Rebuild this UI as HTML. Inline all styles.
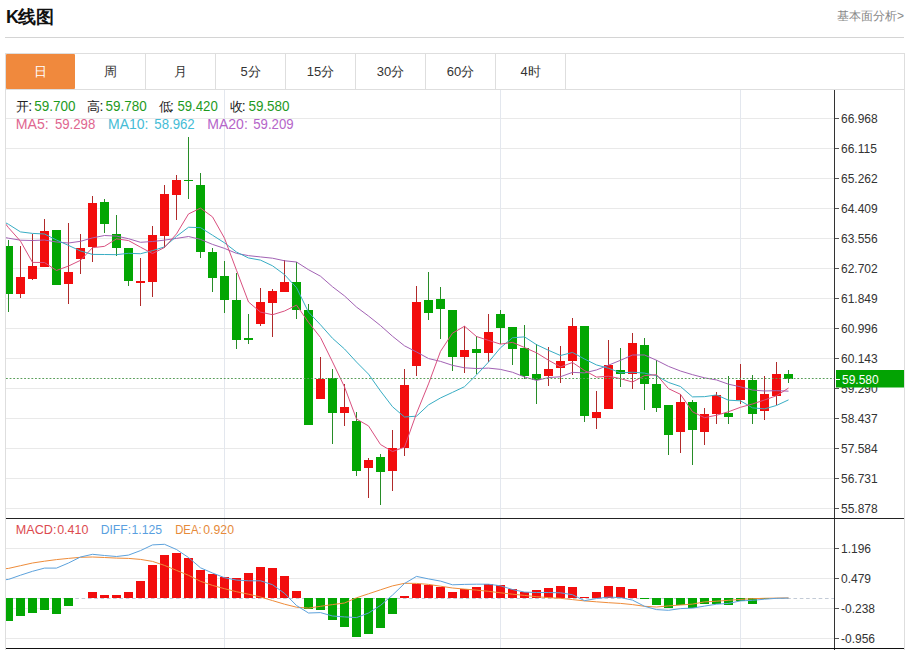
<!DOCTYPE html>
<html><head><meta charset="utf-8">
<style>
*{margin:0;padding:0;box-sizing:border-box}
html,body{width:908px;height:650px;overflow:hidden;background:#fff}
body{position:relative;font-family:"Liberation Sans",sans-serif;color:#333}
.title{position:absolute;left:6px;top:5.7px;font-size:18px;font-weight:bold;color:#111;line-height:22px;letter-spacing:0}
.more{position:absolute;right:4px;top:8.5px;font-size:12px;color:#888;line-height:14px}
.hr{position:absolute;left:5px;top:37px;width:899px;height:1px;background:#d4d4d4}
.tabs{position:absolute;left:5px;top:53px;width:900px;height:37px;border:1px solid #dedede;border-bottom:1px solid #dedede}
.tab{position:absolute;top:0;width:70px;height:35px;line-height:35px;text-align:center;font-size:13px;color:#333;border-right:1px solid #dedede}
.tab.on{background:#f0893d;color:#fff;border-right:none;border-radius:1px;width:69px}
svg{position:absolute;left:0;top:0}
.ax text{font-family:"Liberation Sans",sans-serif;font-size:12px;fill:#333}
.hd{position:absolute;font-size:13px;line-height:16px;white-space:pre}
</style></head><body>
<div class="title"><span style="letter-spacing:-1px">K</span>线图</div>
<div class="more">基本面分析&gt;</div>
<div class="hr"></div>
<div class="tabs">
<div class="tab on" style="left:0">日</div>
<div class="tab" style="left:70px">周</div>
<div class="tab" style="left:140px">月</div>
<div class="tab" style="left:210px">5分</div>
<div class="tab" style="left:280px">15分</div>
<div class="tab" style="left:350px">30分</div>
<div class="tab" style="left:420px">60分</div>
<div class="tab" style="left:490px">4时</div>
</div>
<svg width="908" height="650" viewBox="0 0 908 650">
<rect x="5" y="89" width="1" height="561" fill="#dedede"/>
<rect x="904" y="89" width="1" height="561" fill="#dedede"/>
<g shape-rendering="crispEdges">
<rect x="6" y="118" width="828" height="1" fill="#e9e9e9"/>
<rect x="6" y="148" width="828" height="1" fill="#e9e9e9"/>
<rect x="6" y="178" width="828" height="1" fill="#e9e9e9"/>
<rect x="6" y="208" width="828" height="1" fill="#e9e9e9"/>
<rect x="6" y="238" width="828" height="1" fill="#e9e9e9"/>
<rect x="6" y="268" width="828" height="1" fill="#e9e9e9"/>
<rect x="6" y="298" width="828" height="1" fill="#e9e9e9"/>
<rect x="6" y="328" width="828" height="1" fill="#e9e9e9"/>
<rect x="6" y="358" width="828" height="1" fill="#e9e9e9"/>
<rect x="6" y="388" width="828" height="1" fill="#e9e9e9"/>
<rect x="6" y="418" width="828" height="1" fill="#e9e9e9"/>
<rect x="6" y="448" width="828" height="1" fill="#e9e9e9"/>
<rect x="6" y="478" width="828" height="1" fill="#e9e9e9"/>
<rect x="6" y="508" width="828" height="1" fill="#e9e9e9"/>
<rect x="6" y="548" width="828" height="1" fill="#e9e9e9"/>
<rect x="6" y="578" width="828" height="1" fill="#e9e9e9"/>
<rect x="6" y="608" width="828" height="1" fill="#e9e9e9"/>
<rect x="6" y="638" width="828" height="1" fill="#e9e9e9"/>
<rect x="224" y="90" width="1" height="428" fill="#e3e7ee"/>
<rect x="224" y="519" width="1" height="129" fill="#e3e7ee"/>
<rect x="500" y="90" width="1" height="428" fill="#e3e7ee"/>
<rect x="500" y="519" width="1" height="129" fill="#e3e7ee"/>
<rect x="740" y="90" width="1" height="428" fill="#e3e7ee"/>
<rect x="740" y="519" width="1" height="129" fill="#e3e7ee"/>
</g>
<clipPath id="cp"><rect x="6" y="90" width="828" height="428"/></clipPath>
<clipPath id="cp2"><rect x="6" y="519" width="828" height="129"/></clipPath>
<g clip-path="url(#cp)" shape-rendering="crispEdges">
<rect x="8" y="240" width="1" height="72" fill="#278c27"/>
<rect x="4" y="246" width="9" height="48" fill="#03a603"/>
<rect x="20" y="246" width="1" height="52" fill="#b02a2a"/>
<rect x="16" y="277" width="9" height="17" fill="#f20d0d"/>
<rect x="32" y="234" width="1" height="46" fill="#b02a2a"/>
<rect x="28" y="266" width="9" height="13" fill="#f20d0d"/>
<rect x="44" y="219" width="1" height="48" fill="#b02a2a"/>
<rect x="40" y="231" width="9" height="36" fill="#f20d0d"/>
<rect x="56" y="230" width="1" height="55" fill="#278c27"/>
<rect x="52" y="230" width="9" height="55" fill="#03a603"/>
<rect x="68" y="223" width="1" height="81" fill="#b02a2a"/>
<rect x="64" y="272" width="9" height="12" fill="#f20d0d"/>
<rect x="80" y="234" width="1" height="40" fill="#b02a2a"/>
<rect x="76" y="248" width="9" height="11" fill="#f20d0d"/>
<rect x="92" y="196" width="1" height="66" fill="#b02a2a"/>
<rect x="88" y="203" width="9" height="44" fill="#f20d0d"/>
<rect x="104" y="199" width="1" height="34" fill="#278c27"/>
<rect x="100" y="202" width="9" height="22" fill="#03a603"/>
<rect x="116" y="215" width="1" height="41" fill="#278c27"/>
<rect x="112" y="234" width="9" height="14" fill="#03a603"/>
<rect x="128" y="248" width="1" height="38" fill="#278c27"/>
<rect x="124" y="248" width="9" height="33" fill="#03a603"/>
<rect x="140" y="258" width="1" height="48" fill="#b02a2a"/>
<rect x="136" y="281" width="9" height="2" fill="#f20d0d"/>
<rect x="152" y="226" width="1" height="71" fill="#b02a2a"/>
<rect x="148" y="235" width="9" height="47" fill="#f20d0d"/>
<rect x="164" y="185" width="1" height="63" fill="#b02a2a"/>
<rect x="160" y="194" width="9" height="42" fill="#f20d0d"/>
<rect x="176" y="175" width="1" height="45" fill="#b02a2a"/>
<rect x="172" y="180" width="9" height="15" fill="#f20d0d"/>
<rect x="188" y="137" width="1" height="62" fill="#278c27"/>
<rect x="184" y="180" width="9" height="1" fill="#03a603"/>
<rect x="200" y="173" width="1" height="85" fill="#278c27"/>
<rect x="196" y="185" width="9" height="67" fill="#03a603"/>
<rect x="212" y="248" width="1" height="44" fill="#278c27"/>
<rect x="208" y="252" width="9" height="26" fill="#03a603"/>
<rect x="224" y="261" width="1" height="52" fill="#278c27"/>
<rect x="220" y="276" width="9" height="24" fill="#03a603"/>
<rect x="236" y="273" width="1" height="76" fill="#278c27"/>
<rect x="232" y="300" width="9" height="40" fill="#03a603"/>
<rect x="248" y="314" width="1" height="30" fill="#278c27"/>
<rect x="244" y="338" width="9" height="2" fill="#03a603"/>
<rect x="260" y="288" width="1" height="38" fill="#b02a2a"/>
<rect x="256" y="302" width="9" height="22" fill="#f20d0d"/>
<rect x="272" y="289" width="1" height="48" fill="#b02a2a"/>
<rect x="268" y="291" width="9" height="12" fill="#f20d0d"/>
<rect x="284" y="260" width="1" height="32" fill="#b02a2a"/>
<rect x="280" y="282" width="9" height="10" fill="#f20d0d"/>
<rect x="296" y="262" width="1" height="57" fill="#278c27"/>
<rect x="292" y="282" width="9" height="28" fill="#03a603"/>
<rect x="308" y="304" width="1" height="121" fill="#278c27"/>
<rect x="304" y="310" width="9" height="115" fill="#03a603"/>
<rect x="320" y="357" width="1" height="42" fill="#b02a2a"/>
<rect x="316" y="379" width="9" height="20" fill="#f20d0d"/>
<rect x="332" y="369" width="1" height="75" fill="#278c27"/>
<rect x="328" y="378" width="9" height="35" fill="#03a603"/>
<rect x="344" y="384" width="1" height="42" fill="#b02a2a"/>
<rect x="340" y="407" width="9" height="6" fill="#f20d0d"/>
<rect x="356" y="412" width="1" height="64" fill="#278c27"/>
<rect x="352" y="421" width="9" height="50" fill="#03a603"/>
<rect x="368" y="458" width="1" height="40" fill="#b02a2a"/>
<rect x="364" y="460" width="9" height="8" fill="#f20d0d"/>
<rect x="380" y="454" width="1" height="51" fill="#278c27"/>
<rect x="376" y="457" width="9" height="15" fill="#03a603"/>
<rect x="392" y="430" width="1" height="61" fill="#b02a2a"/>
<rect x="388" y="448" width="9" height="23" fill="#f20d0d"/>
<rect x="404" y="369" width="1" height="87" fill="#b02a2a"/>
<rect x="400" y="385" width="9" height="63" fill="#f20d0d"/>
<rect x="416" y="286" width="1" height="90" fill="#b02a2a"/>
<rect x="412" y="302" width="9" height="64" fill="#f20d0d"/>
<rect x="428" y="272" width="1" height="48" fill="#278c27"/>
<rect x="424" y="300" width="9" height="13" fill="#03a603"/>
<rect x="440" y="287" width="1" height="52" fill="#278c27"/>
<rect x="436" y="299" width="9" height="10" fill="#03a603"/>
<rect x="452" y="310" width="1" height="61" fill="#278c27"/>
<rect x="448" y="310" width="9" height="47" fill="#03a603"/>
<rect x="464" y="326" width="1" height="47" fill="#b02a2a"/>
<rect x="460" y="350" width="9" height="7" fill="#f20d0d"/>
<rect x="476" y="336" width="1" height="38" fill="#278c27"/>
<rect x="472" y="349" width="9" height="4" fill="#03a603"/>
<rect x="488" y="314" width="1" height="48" fill="#b02a2a"/>
<rect x="484" y="332" width="9" height="21" fill="#f20d0d"/>
<rect x="500" y="310" width="1" height="34" fill="#278c27"/>
<rect x="496" y="314" width="9" height="14" fill="#03a603"/>
<rect x="512" y="327" width="1" height="38" fill="#278c27"/>
<rect x="508" y="327" width="9" height="22" fill="#03a603"/>
<rect x="524" y="325" width="1" height="54" fill="#278c27"/>
<rect x="520" y="348" width="9" height="28" fill="#03a603"/>
<rect x="536" y="344" width="1" height="60" fill="#278c27"/>
<rect x="532" y="374" width="9" height="6" fill="#03a603"/>
<rect x="548" y="347" width="1" height="39" fill="#b02a2a"/>
<rect x="544" y="369" width="9" height="7" fill="#f20d0d"/>
<rect x="560" y="346" width="1" height="37" fill="#b02a2a"/>
<rect x="556" y="361" width="9" height="7" fill="#f20d0d"/>
<rect x="572" y="318" width="1" height="57" fill="#b02a2a"/>
<rect x="568" y="326" width="9" height="35" fill="#f20d0d"/>
<rect x="584" y="326" width="1" height="96" fill="#278c27"/>
<rect x="580" y="326" width="9" height="90" fill="#03a603"/>
<rect x="596" y="391" width="1" height="38" fill="#b02a2a"/>
<rect x="592" y="412" width="9" height="6" fill="#f20d0d"/>
<rect x="608" y="340" width="1" height="69" fill="#b02a2a"/>
<rect x="604" y="365" width="9" height="44" fill="#f20d0d"/>
<rect x="620" y="348" width="1" height="39" fill="#278c27"/>
<rect x="616" y="370" width="9" height="4" fill="#03a603"/>
<rect x="632" y="333" width="1" height="56" fill="#b02a2a"/>
<rect x="628" y="343" width="9" height="31" fill="#f20d0d"/>
<rect x="644" y="338" width="1" height="72" fill="#278c27"/>
<rect x="640" y="345" width="9" height="39" fill="#03a603"/>
<rect x="656" y="360" width="1" height="52" fill="#278c27"/>
<rect x="652" y="384" width="9" height="24" fill="#03a603"/>
<rect x="668" y="405" width="1" height="50" fill="#278c27"/>
<rect x="664" y="405" width="9" height="30" fill="#03a603"/>
<rect x="680" y="394" width="1" height="59" fill="#b02a2a"/>
<rect x="676" y="402" width="9" height="30" fill="#f20d0d"/>
<rect x="692" y="400" width="1" height="65" fill="#278c27"/>
<rect x="688" y="402" width="9" height="28" fill="#03a603"/>
<rect x="704" y="408" width="1" height="37" fill="#b02a2a"/>
<rect x="700" y="414" width="9" height="18" fill="#f20d0d"/>
<rect x="716" y="392" width="1" height="32" fill="#b02a2a"/>
<rect x="712" y="395" width="9" height="19" fill="#f20d0d"/>
<rect x="728" y="376" width="1" height="48" fill="#278c27"/>
<rect x="724" y="413" width="9" height="4" fill="#03a603"/>
<rect x="740" y="364" width="1" height="40" fill="#b02a2a"/>
<rect x="736" y="380" width="9" height="20" fill="#f20d0d"/>
<rect x="752" y="375" width="1" height="49" fill="#278c27"/>
<rect x="748" y="380" width="9" height="34" fill="#03a603"/>
<rect x="764" y="376" width="1" height="44" fill="#b02a2a"/>
<rect x="760" y="394" width="9" height="17" fill="#f20d0d"/>
<rect x="776" y="362" width="1" height="43" fill="#b02a2a"/>
<rect x="772" y="374" width="9" height="22" fill="#f20d0d"/>
<rect x="788" y="370" width="1" height="13" fill="#278c27"/>
<rect x="784" y="374" width="9" height="5" fill="#03a603"/>
</g>
<g clip-path="url(#cp)" fill="none" stroke-width="1" stroke-linejoin="round">
<polyline points="-3.5,235.8 8.5,238.2 20.5,240.2 32.5,240.5 44.5,240 56.5,242 68.5,243 80.5,241.3 92.5,237.9 104.5,235.5 116.5,236.1 128.5,238.7 140.5,242.3 152.5,241.5 164.5,240.1 176.5,238.4 188.5,236.5 200.5,239.4 212.5,244.4 224.5,248.4 236.5,253.37 248.5,255.63 260.5,256.93 272.5,258.21 284.5,260.76 296.5,262.02 308.5,269.69 320.5,276.23 332.5,286.75 344.5,295.91 356.5,307.06 368.5,316.03 380.5,325.57 392.5,336.25 404.5,345.82 416.5,351.94 428.5,358.52 440.5,361.38 452.5,365.33 464.5,367.82 476.5,368.5 488.5,368.12 500.5,369.38 512.5,372.25 524.5,376.94 536.5,380.42 548.5,377.6 560.5,376.73 572.5,372.39 584.5,372.86 596.5,369.94 608.5,365.18 620.5,360.27 632.5,355.01 644.5,354.98 656.5,360.26 668.5,366.37 680.5,371.02 692.5,374.66 704.5,377.84 716.5,379.94 728.5,384.21 740.5,386.81 752.5,390.06 764.5,390.97 776.5,390.68 788.5,391.16" stroke="#a262b4"/>
<polyline points="-3.5,218 8.5,224.3 20.5,231.9 32.5,233.4 44.5,234 56.5,240 68.5,245.4 80.5,251 92.5,254.4 104.5,254.5 116.5,254.66 128.5,253.3 140.5,253.73 152.5,250.63 164.5,246.9 176.5,236.35 188.5,227.25 200.5,227.64 212.5,235.21 224.5,242.84 236.5,252.07 248.5,257.96 260.5,260.12 272.5,265.79 284.5,274.62 296.5,287.7 308.5,312.14 320.5,324.82 332.5,338.3 344.5,348.97 356.5,362.06 368.5,374.11 380.5,391.02 392.5,406.72 404.5,417.03 416.5,416.17 428.5,404.9 440.5,397.94 452.5,392.36 464.5,386.68 476.5,374.93 488.5,362.13 500.5,347.74 512.5,337.77 524.5,336.86 536.5,344.66 548.5,350.3 560.5,355.52 572.5,352.43 584.5,359.03 596.5,364.94 608.5,368.22 620.5,372.8 632.5,372.25 644.5,373.09 656.5,375.87 668.5,382.43 680.5,386.52 692.5,396.88 704.5,396.66 716.5,394.95 728.5,400.19 740.5,400.82 752.5,407.86 764.5,408.85 776.5,405.48 788.5,399.89" stroke="#38adc4"/>
<polyline points="-3.5,212 8.5,227.7 20.5,241.2 32.5,262.4 44.5,262.5 56.5,270.48 68.5,266.04 80.5,260.3 92.5,247.7 104.5,246.34 116.5,238.84 128.5,240.56 140.5,247.16 152.5,253.56 164.5,247.46 176.5,233.86 188.5,213.94 200.5,208.12 212.5,216.86 224.5,238.22 236.5,270.28 248.5,301.98 260.5,312.12 272.5,314.72 284.5,311.02 296.5,305.12 308.5,322.3 320.5,337.52 332.5,361.88 344.5,386.92 356.5,419 368.5,425.92 380.5,444.52 392.5,451.56 404.5,447.14 416.5,413.34 428.5,383.88 440.5,351.36 452.5,333.16 464.5,326.22 476.5,336.52 488.5,340.38 500.5,344.12 512.5,342.38 524.5,347.5 536.5,352.8 548.5,360.22 560.5,366.92 572.5,362.48 584.5,370.56 596.5,377.08 608.5,376.22 620.5,378.68 632.5,382.02 644.5,375.62 656.5,374.66 668.5,388.64 680.5,394.36 692.5,411.74 704.5,417.7 716.5,415.24 728.5,411.74 740.5,407.28 752.5,403.98 764.5,400 776.5,395.72 788.5,388.04" stroke="#d9507f"/>
</g>
<line x1="6" y1="378.5" x2="834" y2="378.5" stroke="#5a9e5a" stroke-width="1" stroke-dasharray="1.8 1.83"/>
<line x1="6" y1="598.5" x2="834" y2="598.5" stroke="#c3cbd6" stroke-width="1" stroke-dasharray="3.6 2.7"/>
<g clip-path="url(#cp2)" shape-rendering="crispEdges">
<rect x="4" y="598" width="9" height="23" fill="#03a603"/>
<rect x="16" y="598" width="9" height="18" fill="#03a603"/>
<rect x="28" y="598" width="9" height="15" fill="#03a603"/>
<rect x="40" y="598" width="9" height="12" fill="#03a603"/>
<rect x="52" y="598" width="9" height="16" fill="#03a603"/>
<rect x="64" y="598" width="9" height="8" fill="#03a603"/>
<rect x="88" y="592" width="9" height="6" fill="#f20d0d"/>
<rect x="100" y="595" width="9" height="3" fill="#f20d0d"/>
<rect x="112" y="595" width="9" height="3" fill="#f20d0d"/>
<rect x="124" y="592" width="9" height="6" fill="#f20d0d"/>
<rect x="136" y="581" width="9" height="17" fill="#f20d0d"/>
<rect x="148" y="565" width="9" height="33" fill="#f20d0d"/>
<rect x="160" y="555" width="9" height="43" fill="#f20d0d"/>
<rect x="172" y="553" width="9" height="45" fill="#f20d0d"/>
<rect x="184" y="558" width="9" height="40" fill="#f20d0d"/>
<rect x="196" y="570" width="9" height="28" fill="#f20d0d"/>
<rect x="208" y="574" width="9" height="24" fill="#f20d0d"/>
<rect x="220" y="577" width="9" height="21" fill="#f20d0d"/>
<rect x="232" y="578" width="9" height="20" fill="#f20d0d"/>
<rect x="244" y="573" width="9" height="25" fill="#f20d0d"/>
<rect x="256" y="567" width="9" height="31" fill="#f20d0d"/>
<rect x="268" y="568" width="9" height="30" fill="#f20d0d"/>
<rect x="280" y="576" width="9" height="22" fill="#f20d0d"/>
<rect x="292" y="591" width="9" height="7" fill="#f20d0d"/>
<rect x="304" y="598" width="9" height="11" fill="#03a603"/>
<rect x="316" y="598" width="9" height="12" fill="#03a603"/>
<rect x="328" y="598" width="9" height="22" fill="#03a603"/>
<rect x="340" y="598" width="9" height="29" fill="#03a603"/>
<rect x="352" y="598" width="9" height="39" fill="#03a603"/>
<rect x="364" y="598" width="9" height="36" fill="#03a603"/>
<rect x="376" y="598" width="9" height="30" fill="#03a603"/>
<rect x="388" y="598" width="9" height="16" fill="#03a603"/>
<rect x="400" y="596" width="9" height="2" fill="#f20d0d"/>
<rect x="412" y="584" width="9" height="14" fill="#f20d0d"/>
<rect x="424" y="585" width="9" height="13" fill="#f20d0d"/>
<rect x="436" y="587" width="9" height="11" fill="#f20d0d"/>
<rect x="448" y="592" width="9" height="6" fill="#f20d0d"/>
<rect x="460" y="589" width="9" height="9" fill="#f20d0d"/>
<rect x="472" y="587" width="9" height="11" fill="#f20d0d"/>
<rect x="484" y="584" width="9" height="14" fill="#f20d0d"/>
<rect x="496" y="585" width="9" height="13" fill="#f20d0d"/>
<rect x="508" y="589" width="9" height="9" fill="#f20d0d"/>
<rect x="520" y="592" width="9" height="6" fill="#f20d0d"/>
<rect x="532" y="590" width="9" height="8" fill="#f20d0d"/>
<rect x="544" y="588" width="9" height="10" fill="#f20d0d"/>
<rect x="556" y="586" width="9" height="12" fill="#f20d0d"/>
<rect x="568" y="587" width="9" height="11" fill="#f20d0d"/>
<rect x="580" y="597" width="9" height="1" fill="#f20d0d"/>
<rect x="592" y="592" width="9" height="6" fill="#f20d0d"/>
<rect x="604" y="586" width="9" height="12" fill="#f20d0d"/>
<rect x="616" y="587" width="9" height="11" fill="#f20d0d"/>
<rect x="628" y="589" width="9" height="9" fill="#f20d0d"/>
<rect x="640" y="598" width="9" height="1" fill="#03a603"/>
<rect x="652" y="598" width="9" height="7" fill="#03a603"/>
<rect x="664" y="598" width="9" height="10" fill="#03a603"/>
<rect x="676" y="598" width="9" height="7" fill="#03a603"/>
<rect x="688" y="598" width="9" height="10" fill="#03a603"/>
<rect x="700" y="598" width="9" height="6" fill="#03a603"/>
<rect x="712" y="598" width="9" height="6" fill="#03a603"/>
<rect x="724" y="598" width="9" height="7" fill="#03a603"/>
<rect x="736" y="598" width="9" height="3" fill="#03a603"/>
<rect x="748" y="598" width="9" height="6" fill="#03a603"/>
<rect x="760" y="598" width="9" height="1" fill="#03a603"/>
</g>
<g clip-path="url(#cp2)" fill="none" stroke-width="1" stroke-linejoin="round">
<polyline points="-3.5,569.6 8.5,568.4 20.5,565.7 32.5,563 44.5,561.2 56.5,559.6 68.5,558.4 80.5,557.3 92.5,557 104.5,557.5 116.5,558.1 128.5,558.4 140.5,559.4 152.5,561.4 164.5,565.4 176.5,570.4 188.5,575.3 200.5,581.3 212.5,585.4 224.5,588.7 236.5,591.7 248.5,594.2 260.5,597 272.5,600.6 284.5,604.2 296.5,607.2 308.5,608.1 320.5,606.3 332.5,604.6 344.5,603 356.5,597.8 368.5,593.8 380.5,589.8 392.5,585.9 404.5,583.3 416.5,583.4 428.5,584.4 440.5,586.2 452.5,588 464.5,589.1 476.5,590.1 488.5,591.3 500.5,592.8 512.5,594.2 524.5,595.4 536.5,596.7 548.5,597.6 560.5,598.3 572.5,599.6 584.5,600.9 596.5,601.8 608.5,602.7 620.5,603.4 632.5,604.6 644.5,606.3 656.5,607 668.5,605.9 680.5,605 692.5,604.1 704.5,601.9 716.5,601.2 728.5,600.3 740.5,599.4 752.5,598.7 764.5,598.3 776.5,598.1 788.5,597.9" stroke="#ee8c3a"/>
<polyline points="-3.5,580.6 8.5,579.4 20.5,575.2 32.5,571.3 44.5,568.1 56.5,568.1 68.5,563 80.5,557 92.5,554.3 104.5,555.5 116.5,556.5 128.5,555.1 140.5,550.6 152.5,544.9 164.5,544.3 176.5,549.5 188.5,557.5 200.5,567.8 212.5,573 224.5,577.7 236.5,580.1 248.5,580.8 260.5,580.8 272.5,584.7 284.5,593.3 296.5,605.5 308.5,613 320.5,612.6 332.5,616 344.5,616.9 356.5,617.6 368.5,613 380.5,605.4 392.5,595.1 404.5,583.5 416.5,576.4 428.5,578.9 440.5,581.1 452.5,584.8 464.5,584.4 476.5,584.2 488.5,584.2 500.5,585.8 512.5,589.5 524.5,592.1 536.5,592.5 548.5,592.5 560.5,592.8 572.5,594.7 584.5,600.7 596.5,598.5 608.5,597.1 620.5,597.6 632.5,600.1 644.5,606.3 656.5,609.6 668.5,610.3 680.5,608.6 692.5,608.1 704.5,606.1 716.5,604.2 728.5,603.4 740.5,600.9 752.5,600.3 764.5,599.2 776.5,598.3 788.5,598.1" stroke="#5da2dc"/>
</g>
<g shape-rendering="crispEdges">
<rect x="834" y="90" width="1" height="560" fill="#333"/>
<rect x="6" y="518" width="898" height="1" fill="#222"/>
<rect x="6" y="648" width="898" height="1" fill="#111"/>
</g>
<g class="ax" shape-rendering="crispEdges">
<rect x="835" y="118" width="4" height="1" fill="#555"/>
<text x="841" y="123.0">66.968</text>
<rect x="835" y="148" width="4" height="1" fill="#555"/>
<text x="841" y="153.0">66.115</text>
<rect x="835" y="178" width="4" height="1" fill="#555"/>
<text x="841" y="183.0">65.262</text>
<rect x="835" y="208" width="4" height="1" fill="#555"/>
<text x="841" y="213.0">64.409</text>
<rect x="835" y="238" width="4" height="1" fill="#555"/>
<text x="841" y="243.0">63.556</text>
<rect x="835" y="268" width="4" height="1" fill="#555"/>
<text x="841" y="273.0">62.702</text>
<rect x="835" y="298" width="4" height="1" fill="#555"/>
<text x="841" y="303.0">61.849</text>
<rect x="835" y="328" width="4" height="1" fill="#555"/>
<text x="841" y="333.0">60.996</text>
<rect x="835" y="358" width="4" height="1" fill="#555"/>
<text x="841" y="363.0">60.143</text>
<rect x="835" y="388" width="4" height="1" fill="#555"/>
<text x="841" y="393.0">59.290</text>
<rect x="835" y="418" width="4" height="1" fill="#555"/>
<text x="841" y="423.0">58.437</text>
<rect x="835" y="448" width="4" height="1" fill="#555"/>
<text x="841" y="453.0">57.584</text>
<rect x="835" y="478" width="4" height="1" fill="#555"/>
<text x="841" y="483.0">56.731</text>
<rect x="835" y="508" width="4" height="1" fill="#555"/>
<text x="841" y="513.0">55.878</text>
<rect x="835" y="548" width="4" height="1" fill="#555"/>
<text x="841" y="553.0">1.196</text>
<rect x="835" y="578" width="4" height="1" fill="#555"/>
<text x="841" y="583.0">0.479</text>
<rect x="835" y="608" width="4" height="1" fill="#555"/>
<text x="841" y="613.0">-0.238</text>
<rect x="835" y="638" width="4" height="1" fill="#555"/>
<text x="841" y="643.0">-0.956</text>
</g>
<rect x="836" y="370" width="68" height="17.5" fill="#03a303"/>
<rect x="836" y="379" width="4" height="1" fill="#fff"/>
<text x="842" y="383.6" font-family="Liberation Sans, sans-serif" font-size="12" fill="#fff">59.580</text>
</svg>
<svg width="908" height="650" style="position:absolute;left:0;top:0" font-family="Liberation Sans, sans-serif">
<g font-size="14">
<text x="15.8" y="110.7" fill="#222" font-size="13">开</text><text x="28.2" y="110.7" fill="#222">:</text><text x="34.2" y="110.7" fill="#1e9a1e" textLength="41.2" lengthAdjust="spacingAndGlyphs">59.700</text>
<text x="87.2" y="110.7" fill="#222" font-size="13">高</text><text x="99.5" y="110.7" fill="#222">:</text><text x="105.6" y="110.7" fill="#1e9a1e" textLength="41.2" lengthAdjust="spacingAndGlyphs">59.780</text>
<text x="158.6" y="110.7" fill="#222" font-size="13">低</text><text x="170.1" y="110.7" fill="#222">:</text><text x="177.4" y="110.7" fill="#1e9a1e" textLength="40.4" lengthAdjust="spacingAndGlyphs">59.420</text>
<text x="230" y="110.7" fill="#222" font-size="13">收</text><text x="241.7" y="110.7" fill="#222">:</text><text x="248.4" y="110.7" fill="#1e9a1e" textLength="41.2" lengthAdjust="spacingAndGlyphs">59.580</text>
<text x="15.7" y="128.8" fill="#e0668f" textLength="33" lengthAdjust="spacingAndGlyphs">MA5:</text><text x="54.9" y="128.8" fill="#e0668f" textLength="40.4" lengthAdjust="spacingAndGlyphs">59.298</text>
<text x="108" y="128.8" fill="#45bcd6" textLength="40.4" lengthAdjust="spacingAndGlyphs">MA10:</text><text x="154.3" y="128.8" fill="#45bcd6" textLength="40.4" lengthAdjust="spacingAndGlyphs">58.962</text>
<text x="207.2" y="128.8" fill="#b565c9" textLength="40.6" lengthAdjust="spacingAndGlyphs">MA20:</text><text x="253.2" y="128.8" fill="#b565c9" textLength="40.4" lengthAdjust="spacingAndGlyphs">59.209</text>
</g>
<g font-size="12">
<text x="15.8" y="534" fill="#dc4a4f" textLength="40.6" lengthAdjust="spacingAndGlyphs">MACD:</text><text x="57.2" y="534" fill="#dc4a4f" textLength="31.2" lengthAdjust="spacingAndGlyphs">0.410</text>
<text x="100.7" y="534" fill="#5a9fe0" textLength="30.4" lengthAdjust="spacingAndGlyphs">DIFF:</text><text x="131.5" y="534" fill="#5a9fe0" textLength="30.6" lengthAdjust="spacingAndGlyphs">1.125</text>
<text x="175.2" y="534" fill="#e68a3a" textLength="26.4" lengthAdjust="spacingAndGlyphs">DEA:</text><text x="203.3" y="534" fill="#e68a3a" textLength="30.7" lengthAdjust="spacingAndGlyphs">0.920</text>
</g>
</svg>
</body></html>
